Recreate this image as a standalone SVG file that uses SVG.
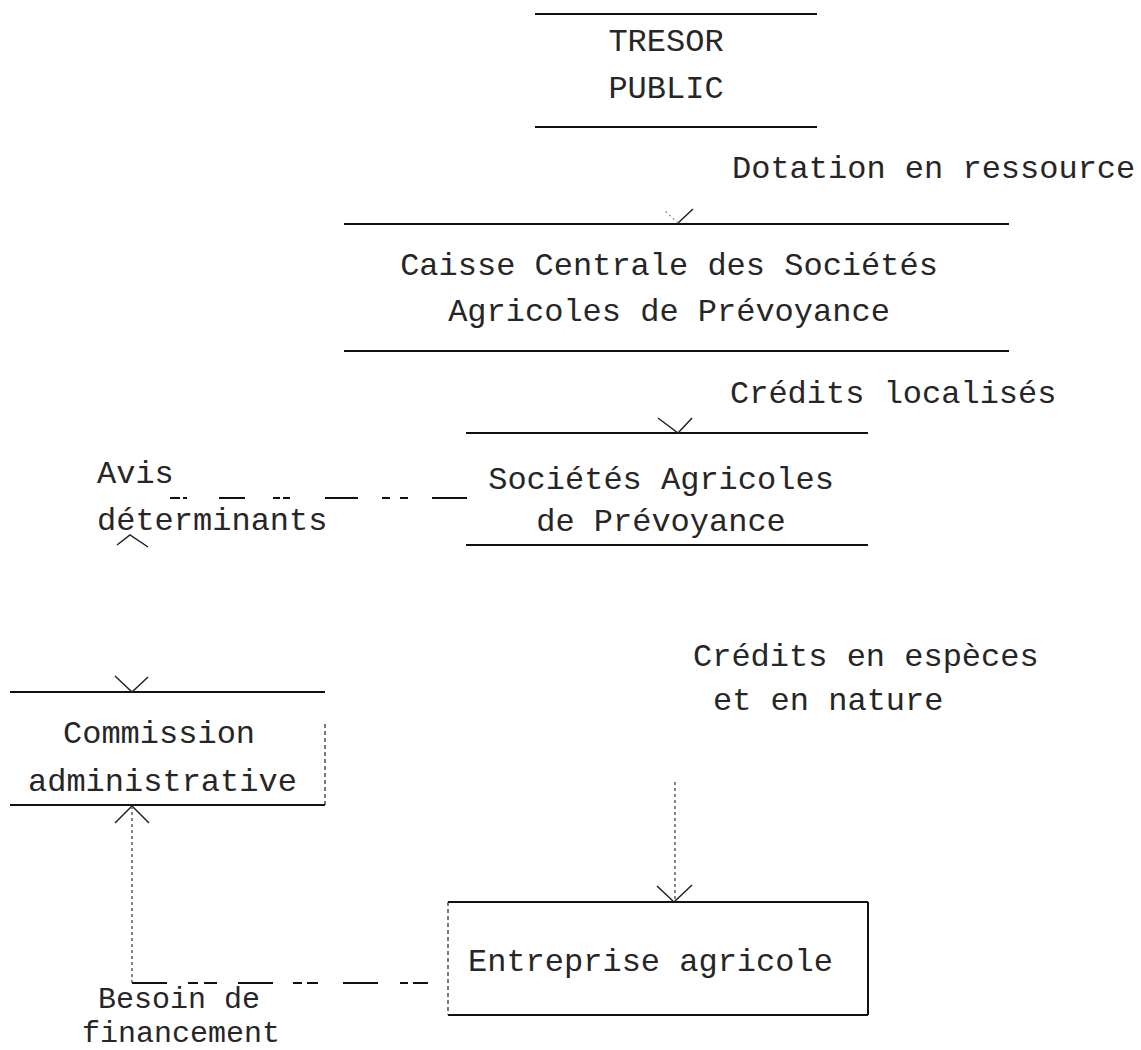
<svg xmlns="http://www.w3.org/2000/svg" width="1141" height="1050" viewBox="0 0 1141 1050">
<style>
  text { font-family: "Liberation Mono", "DejaVu Sans Mono", monospace; font-size: 32px; fill: #262626; }
  .mid { text-anchor: middle; }
  .small { font-size: 30px; }
  .rule { stroke: #111; stroke-width: 2; fill: none; }
  .edge { stroke: #333; stroke-width: 1.3; stroke-dasharray: 4 3; fill: none; }
  .dash { stroke: #111; stroke-width: 2; fill: none; }
  .dot { stroke: #444; stroke-width: 1.3; stroke-dasharray: 3 3; fill: none; }
  .head { stroke: #222; stroke-width: 1.5; fill: none; }
  .faint { stroke: #888; stroke-width: 1.2; stroke-dasharray: 2 3; fill: none; }
</style>
<rect width="1141" height="1050" fill="#fff"/>

<g id="tresor-public">
  <line class="rule" x1="535" y1="14" x2="817" y2="14"/>
  <line class="rule" x1="535" y1="127" x2="817" y2="127"/>
  <text class="mid" x="666" y="51">TRESOR</text>
  <text class="mid" x="666" y="98">PUBLIC</text>
</g>

<g id="caisse-centrale">
  <line class="rule" x1="344" y1="224" x2="1009" y2="224"/>
  <line class="rule" x1="344" y1="351" x2="1009" y2="351"/>
  <text class="mid" x="669" y="275">Caisse Centrale des Sociétés</text>
  <text class="mid" x="669" y="321">Agricoles de Prévoyance</text>
</g>

<g id="societes-agricoles">
  <line class="rule" x1="466" y1="433" x2="868" y2="433"/>
  <line class="rule" x1="466" y1="545" x2="868" y2="545"/>
  <text class="mid" x="661" y="489">Sociétés Agricoles</text>
  <text class="mid" x="661" y="531">de Prévoyance</text>
</g>

<g id="commission-administrative">
  <line class="rule" x1="10" y1="692" x2="325" y2="692"/>
  <line class="rule" x1="10" y1="805" x2="325" y2="805"/>
  <line class="edge" x1="325" y1="724" x2="325" y2="805"/>
  <text x="63" y="743">Commission</text>
  <text x="28" y="791">administrative</text>
</g>

<g id="entreprise-agricole">
  <line class="rule" x1="448" y1="902" x2="868" y2="902"/>
  <line class="rule" x1="448" y1="1015" x2="868" y2="1015"/>
  <line class="rule" x1="868" y1="902" x2="868" y2="1015"/>
  <line class="edge" x1="448" y1="902" x2="448" y2="1015"/>
  <text x="468" y="971">Entreprise agricole</text>
</g>

<g id="connectors">
  <!-- Tresor -> Caisse -->
  <path class="head" d="M678,223 L693,209"/>
  <path class="faint" d="M678,223 L664,210"/>
  <text x="732" y="178">Dotation en ressource</text>

  <!-- Caisse -> Sociétés -->
  <path class="head" d="M658,418 L678,433 L692,418"/>
  <text x="730" y="403">Crédits localisés</text>

  <!-- Sociétés — Avis déterminants -->
  <path class="dash" d="M170,498 H180 M183,498 H187 M219,498 H245 M273,498 H280 M283,498 H290 M325,498 H358 M382,498 H390 M400,498 H408 M432,498 H467"/>
  <text x="97" y="483">Avis</text>
  <text x="97" y="530">déterminants</text>
  <path class="head" d="M117,545 L130,535 L148,547"/>
  <path class="head" d="M115,676 L132,692 L148,677"/>

  <!-- Sociétés -> Entreprise -->
  <text x="693" y="666">Crédits en espèces</text>
  <text x="713" y="710">et en nature</text>
  <line class="dot" x1="675" y1="782" x2="675" y2="900"/>
  <path class="head" d="M657,886 L674,902 L692,885"/>

  <!-- Entreprise -> Commission -->
  <path class="dash" d="M132,983 H167 M188,983 H198 M204,983 H217 M238,983 H273 M293,983 H302 M307,983 H318 M343,983 H378 M400,983 H408 M413,983 H428"/>
  <line class="dot" x1="132" y1="983" x2="132" y2="808"/>
  <path class="head" d="M115,823 L132,806 L149,823"/>
  <text class="small" x="98" y="1008">Besoin de</text>
  <text class="small" x="82" y="1042">financement</text>
</g>
</svg>
